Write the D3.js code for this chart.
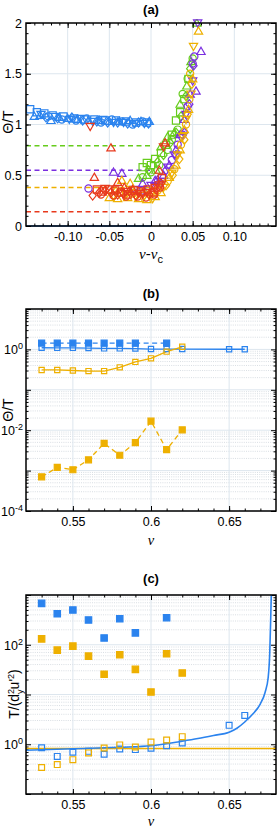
<!DOCTYPE html>
<html><head><meta charset="utf-8">
<script src="https://cdn.jsdelivr.net/npm/d3@7"></script>
<style>
body{margin:0;background:#fff;}
svg{display:block;font-family:"Liberation Sans",Arial,sans-serif;}
</style></head>
<body><svg id="c" width="278" height="830"></svg>
<script>
// ---------- DATA ----------
// Panel (a): Θ/T vs ν-ν_c
const aXTicks = [-0.10,-0.05,0,0.05,0.10];
const aXTickLabels = ["-0.10","-0.05","0","0.05","0.10"];
const aYTicks = [0,0.5,1,1.5,2];
const aYTickLabels = ["0","0.5","1","1.5","2"];
const aLevels = [["green",0.79],["purple",0.55],["orange",0.38],["red",0.14],["blue",0.0]];

const blueSq = [[-0.145,1.15],[-0.137,1.12],[-0.128,1.11],[-0.118,1.09],[-0.105,1.08],[-0.092,1.06],[-0.08,1.05],[-0.068,1.05],[-0.055,1.04],[-0.042,1.04],[-0.03,1.03],[-0.018,1.02],[-0.005,1.02]];
const blueTriUp = [[-0.14,1.08],[-0.133,1.09],[-0.12,1.04],[-0.11,1.07],[-0.1,1.06],[-0.088,1.05],[-0.075,1.04],[-0.062,1.04],[-0.05,1.03],[-0.038,1.03],[-0.025,1.04],[-0.012,1.03],[-0.002,1.03]];
const blueTriDown = [[-0.132,1.1],[-0.115,1.08],[-0.098,1.05],[-0.085,1.06],[-0.07,1.03],[-0.058,1.05],[-0.045,1.02],[-0.033,1.02],[-0.02,1.01],[-0.008,1.01]];
const blueDiamond = [[-0.126,1.07],[-0.112,1.06],[-0.095,1.07],[-0.082,1.04],[-0.065,1.03],[-0.052,1.02],[-0.04,1.02],[-0.028,1.01],[-0.015,1.02],[-0.003,1.01]];
const blueCircle = [[-0.123,1.08],[-0.107,1.05],[-0.09,1.04],[-0.077,1.06],[-0.06,1.02],[-0.047,1.05],[-0.035,1.03],[-0.022,1.0],[-0.01,1.03]];

const greenSq = [[-0.005,0.62],[0.0,0.6],[-0.01,0.58],[0.005,0.66],[0.012,0.72],[0.018,0.8],[0.025,0.9],[0.03,1.04],[0.035,1.12],[0.04,1.25],[0.045,1.45]];
const greenTriUp = [[-0.015,0.47],[-0.005,0.5],[0.006,0.55],[0.012,0.78],[0.02,0.88],[0.028,0.92],[0.035,1.2],[0.043,1.38],[0.048,1.62],[0.055,2.0]];
const greenCircle = [[-0.01,0.48],[0.0,0.53],[0.01,0.6],[0.02,0.75],[0.025,0.85],[0.032,0.95],[0.038,1.3],[0.044,1.45],[0.05,1.65]];
const greenDiamond = [[-0.003,0.55],[0.008,0.63],[0.015,0.7],[0.023,0.82],[0.03,0.92],[0.036,1.08],[0.042,1.28],[0.047,1.55]];

const purpleTriUp = [[-0.045,0.53],[-0.035,0.52],[-0.01,0.42],[0.005,0.45],[0.015,0.5],[0.022,0.6],[0.03,0.75],[0.035,0.9],[0.04,1.05],[0.047,1.3],[0.054,1.33],[0.06,1.72]];
const purpleTriDown = [[-0.02,0.36],[0.0,0.4],[0.012,0.44],[0.02,0.58],[0.028,0.7],[0.036,0.87],[0.042,1.1],[0.05,1.43],[0.056,2.0]];
const purpleCircle = [[-0.075,0.37],[-0.01,0.35],[0.01,0.42],[0.025,0.65],[0.032,0.8],[0.038,0.9],[0.044,1.18],[0.05,1.6],[0.052,1.67]];
const purpleDiamond = [[0.008,0.45],[0.018,0.55],[0.03,0.7],[0.04,0.92],[0.046,1.2],[0.051,1.58]];

const orangeTriUp = [[-0.035,0.45],[-0.025,0.42],[-0.05,0.28],[-0.04,0.27],[-0.028,0.28],[-0.015,0.27],[-0.005,0.26],[0.005,0.29],[0.012,0.33],[0.022,0.48],[0.03,0.6],[0.035,0.75],[0.04,0.95],[0.045,1.15],[0.05,1.45],[0.057,1.92]];
const orangeTriDown = [[-0.045,0.3],[-0.03,0.31],[-0.018,0.29],[-0.008,0.3],[0.002,0.27],[0.015,0.38],[0.025,0.52],[0.032,0.7],[0.038,0.88],[0.042,1.05],[0.048,1.3],[0.051,1.77]];
const orangeCircle = [[-0.038,0.33],[-0.022,0.32],[-0.01,0.33],[0.008,0.35],[0.02,0.44],[0.028,0.56],[0.036,0.8],[0.042,1.0],[0.046,1.25],[0.047,1.5]];
const orangeDiamond = [[-0.042,0.34],[-0.02,0.33],[0.0,0.34],[0.018,0.4],[0.026,0.5],[0.034,0.66],[0.04,0.85],[0.044,1.1],[0.049,1.4]];

const redTriUp = [[-0.068,0.48],[-0.048,0.77],[-0.04,0.43],[-0.032,0.38],[-0.022,0.36],[0.01,0.55],[0.017,0.82]];
const redTriDown = [[-0.073,0.98],[-0.055,0.37],[-0.03,0.34],[-0.015,0.32],[-0.005,0.33],[0.005,0.38],[0.015,0.78]];
const redDiamond = [[-0.07,0.3],[-0.062,0.33],[-0.055,0.35],[-0.048,0.33],[-0.04,0.31],[-0.033,0.32],[-0.026,0.34],[-0.018,0.3],[-0.01,0.32],[-0.002,0.31],[0.006,0.36],[0.012,0.42]];
const redSq = [[-0.065,0.36],[-0.058,0.34],[-0.05,0.36],[-0.043,0.35],[-0.036,0.33],[-0.028,0.31],[-0.02,0.35],[-0.012,0.34],[-0.004,0.36],[0.003,0.33],[0.009,0.4],[0.013,0.47]];
const redCircle = [[-0.06,0.31],[-0.045,0.3],[-0.03,0.29],[-0.016,0.29],[-0.006,0.28],[0.004,0.31],[0.011,0.38]];

// Panel (b): Θ/T vs ν (log)
const nuB = [0.53,0.54,0.55,0.56,0.57,0.58,0.59,0.60,0.61,0.62];
const nuBlueOpenB = [0.53,0.54,0.55,0.56,0.57,0.58,0.59,0.60,0.61,0.62,0.65,0.66];
const blueOpenB = [1.10,1.09,1.09,1.08,1.06,1.06,1.05,1.02,1.02,1.02,1.01,1.01];
const nuBlueFilledB = [0.53,0.54,0.55,0.56,0.57,0.58,0.59,0.61];
const blueFilledB = [1.43,1.43,1.43,1.43,1.43,1.43,1.43,1.43];
const orangeOpenB = [0.31,0.31,0.30,0.29,0.29,0.36,0.49,0.60,0.88,1.16];
const orangeFilledB = [7.0e-4,1.2e-3,1.05e-3,1.85e-3,4.7e-3,2.4e-3,4.9e-3,0.0167,3.3e-3,0.0102];
const bXTicks = [0.55,0.6,0.65];
const bXTickLabels = ["0.55","0.6","0.65"];
const bYLabelExp = [0,-2,-4];

// Panel (c): T/(d_y^2 u'^2) vs ν (log)
const nuBlueFilledC = [0.53,0.54,0.55,0.56,0.57,0.58,0.59,0.61];
const blueFilledC = [680,420,500,315,137,334,173,350];
const orangeFilledC = [131,78,94,59,25.6,63,32,11.2,66,27];
const nuBlueOpenC = [0.53,0.54,0.55,0.56,0.57,0.58,0.59,0.60,0.61,0.62,0.65,0.66];
const blueOpenC = [0.85,0.57,0.69,0.72,0.63,0.80,0.78,0.83,0.93,1.06,2.4,3.8];
const orangeOpenC = [0.34,0.39,0.49,0.67,0.84,0.97,0.88,1.11,1.22,1.42];
const orangeLevelC = 0.82;
const curveNuC = [0.52,0.55,0.58,0.60,0.62,0.63,0.64,0.65,0.655,0.66,0.665,0.67,0.673,0.675,0.676,0.6765,0.677];
const curveValC = [0.76,0.81,0.87,0.93,1.15,1.3,1.5,1.75,2.1,2.8,4.0,6.5,11,22,70,250,1000];
const cYLabelExp = [0,2];

// ---------- STYLE ----------
const COL = {blue:"#2b83ee", green:"#66cc1c", purple:"#7a2fe0", orange:"#eeb000", red:"#e8391c"};
const L = 26, R = 276;
const svg = d3.select("#c");
const gridCol = "#dde6ee";

function shapePath(s, r){
  switch(s){
    case "sq": return `M${-r},${-r}h${2*r}v${2*r}h${-2*r}Z`;
    case "ci": return `M${r},0A${r},${r} 0 1,1 ${-r},0A${r},${r} 0 1,1 ${r},0Z`;
    case "tu": return `M0,${-r*1.15}L${r*1.15},${r*0.85}L${-r*1.15},${r*0.85}Z`;
    case "td": return `M0,${r*1.15}L${r*1.15},${-r*0.85}L${-r*1.15},${-r*0.85}Z`;
    case "di": return `M0,${-r*1.25}L${r},0L0,${r*1.25}L${-r},0Z`;
  }
}
function markers(g, pts, x, y, shape, col, r, filled){
  g.selectAll(null).data(pts).enter().append("path")
    .attr("d", shapePath(shape, r))
    .attr("transform", d => `translate(${x(d[0])},${y(d[1])})`)
    .attr("fill", filled ? col : "none")
    .attr("stroke", col).attr("stroke-width", 1.2);
}
function frame(g, top, bot){
  g.append("rect").attr("x",L).attr("y",top).attr("width",R-L).attr("height",bot-top)
   .attr("fill","none").attr("stroke","#000").attr("stroke-width",1.5);
}
function styleAxis(a){
  a.select(".domain").remove();
  a.selectAll("line").attr("stroke","#000").attr("stroke-width",1);
  a.selectAll("text").attr("font-size","12.5px").attr("fill","#000").attr("font-family","'Liberation Sans',Arial,sans-serif");
}
function linAxes(g, x, y, top, bot, xMaj, xLab, xMin, yMaj, yLab, yMin){
  const ab = g.append("g").attr("transform",`translate(0,${bot})`)
    .call(d3.axisBottom(x).tickValues(xMaj).tickFormat((d,i)=>xLab[i]).tickSize(-5).tickPadding(6));
  styleAxis(ab);
  styleAxis(g.append("g").attr("transform",`translate(0,${bot})`).call(d3.axisBottom(x).tickValues(xMin).tickFormat("").tickSize(-2.5)));
  styleAxis(g.append("g").attr("transform",`translate(0,${top})`).call(d3.axisTop(x).tickValues(xMaj).tickFormat("").tickSize(-5)));
  styleAxis(g.append("g").attr("transform",`translate(0,${top})`).call(d3.axisTop(x).tickValues(xMin).tickFormat("").tickSize(-2.5)));
  if(yMaj){
    const al = g.append("g").attr("transform",`translate(${L},0)`)
      .call(d3.axisLeft(y).tickValues(yMaj).tickFormat((d,i)=>yLab[i]).tickSize(-5).tickPadding(4));
    styleAxis(al);
    styleAxis(g.append("g").attr("transform",`translate(${L},0)`).call(d3.axisLeft(y).tickValues(yMin).tickFormat("").tickSize(-2.5)));
    styleAxis(g.append("g").attr("transform",`translate(${R},0)`).call(d3.axisRight(y).tickValues(yMaj).tickFormat("").tickSize(-5)));
    styleAxis(g.append("g").attr("transform",`translate(${R},0)`).call(d3.axisRight(y).tickValues(yMin).tickFormat("").tickSize(-2.5)));
  }
}
function logYAxes(g, y, labelExps){
  const dom = y.domain();
  const e0 = Math.round(Math.log10(dom[0])), e1 = Math.round(Math.log10(dom[1]));
  const maj = d3.range(e0, e1+1).map(e => Math.pow(10,e));
  const minr = [];
  for(let e=e0;e<e1;e++) for(let k=2;k<10;k++) minr.push(k*Math.pow(10,e));
  const labVals = labelExps.map(e=>Math.pow(10,e));
  const al = g.append("g").attr("transform",`translate(${L},0)`)
    .call(d3.axisLeft(y).tickValues(labVals).tickFormat("").tickSize(-5).tickPadding(4));
  styleAxis(al);
  al.selectAll(".tick").each(function(d,i){
    const t = d3.select(this).append("text").attr("x",-3).attr("dy","0.35em")
      .attr("text-anchor","end").attr("font-size","12.5px").attr("fill","#000");
    t.append("tspan").text("10");
    t.append("tspan").attr("dy","-0.55em").attr("font-size","9px").text(labelExps[i]<0 ? "-"+Math.abs(labelExps[i]) : String(labelExps[i]));
  });
  const others = maj.filter(v => !labVals.some(l=>Math.abs(l-v)/v<1e-9));
  styleAxis(g.append("g").attr("transform",`translate(${L},0)`).call(d3.axisLeft(y).tickValues(others).tickFormat("").tickSize(-5)));
  styleAxis(g.append("g").attr("transform",`translate(${L},0)`).call(d3.axisLeft(y).tickValues(minr).tickFormat("").tickSize(-2.5)));
  styleAxis(g.append("g").attr("transform",`translate(${R},0)`).call(d3.axisRight(y).tickValues(maj).tickFormat("").tickSize(-5)));
  styleAxis(g.append("g").attr("transform",`translate(${R},0)`).call(d3.axisRight(y).tickValues(minr).tickFormat("").tickSize(-2.5)));
  return {maj, minr};
}
function logGrid(g, x, y, xMaj, top, bot, maj, minr){
  g.selectAll(null).data(minr).enter().append("line")
    .attr("x1",L).attr("x2",R).attr("y1",d=>y(d)).attr("y2",d=>y(d))
    .attr("stroke","#cfd6dc").attr("stroke-width",0.8).attr("stroke-dasharray","1,1.2");
  g.selectAll(null).data(maj).enter().append("line")
    .attr("x1",L).attr("x2",R).attr("y1",d=>y(d)).attr("y2",d=>y(d))
    .attr("stroke",gridCol).attr("stroke-width",1);
  g.selectAll(null).data(xMaj).enter().append("line")
    .attr("x1",d=>x(d)).attr("x2",d=>x(d)).attr("y1",top).attr("y2",bot)
    .attr("stroke",gridCol).attr("stroke-width",1);
}
function title(txt, yb){
  svg.append("text").attr("x",(L+R)/2).attr("y",yb).attr("text-anchor","middle")
    .attr("font-weight","bold").attr("font-size","13px").text(txt);
}
function nuLabel(yb){
  svg.append("text").attr("x",(L+R)/2).attr("y",yb).attr("text-anchor","middle")
    .attr("font-family","'Liberation Serif','Times New Roman',serif").attr("font-style","italic")
    .attr("font-size","14.5px").text("ν");
}
function thetaLabel(cy){
  svg.append("text").attr("transform",`translate(13,${cy}) rotate(-90)`).attr("text-anchor","middle")
    .attr("font-size","14px").text("Θ/T");
}

// ---------- PANEL (a) ----------
{
  const top = 23, bot = 226;
  const x = d3.scaleLinear().domain([-0.15,0.15]).range([L,R]);
  const y = d3.scaleLinear().domain([0,2]).range([bot,top]);
  const g = svg.append("g");
  g.selectAll(null).data(aXTicks).enter().append("line")
    .attr("x1",d=>x(d)).attr("x2",d=>x(d)).attr("y1",top).attr("y2",bot).attr("stroke",gridCol);
  g.selectAll(null).data(aYTicks.slice(1,-1)).enter().append("line")
    .attr("x1",L).attr("x2",R).attr("y1",d=>y(d)).attr("y2",d=>y(d)).attr("stroke",gridCol);
  g.selectAll(null).data(aLevels).enter().append("line")
    .attr("x1",x(-0.15)).attr("x2",x(0)).attr("y1",d=>y(d[1])).attr("y2",d=>y(d[1]))
    .attr("stroke",d=>COL[d[0]]).attr("stroke-width",1.5)
    .attr("stroke-dasharray",d=>d[1]===0?null:"5,3.5");
  const r = 3.6;
  const mg = g.append("g");
  markers(mg, blueSq, x,y,"sq",COL.blue,r);
  markers(mg, blueTriUp, x,y,"tu",COL.blue,r);
  markers(mg, blueTriDown, x,y,"td",COL.blue,r);
  markers(mg, blueDiamond, x,y,"di",COL.blue,r);
  markers(mg, blueCircle, x,y,"ci",COL.blue,r);
  markers(mg, greenSq, x,y,"sq",COL.green,r);
  markers(mg, greenTriUp, x,y,"tu",COL.green,r);
  markers(mg, greenCircle, x,y,"ci",COL.green,r);
  markers(mg, greenDiamond, x,y,"di",COL.green,r);
  markers(mg, purpleTriUp, x,y,"tu",COL.purple,r);
  markers(mg, purpleTriDown, x,y,"td",COL.purple,r);
  markers(mg, purpleCircle, x,y,"ci",COL.purple,r);
  markers(mg, purpleDiamond, x,y,"di",COL.purple,r);
  markers(mg, orangeTriUp, x,y,"tu",COL.orange,r);
  markers(mg, orangeTriDown, x,y,"td",COL.orange,r);
  markers(mg, orangeCircle, x,y,"ci",COL.orange,r);
  markers(mg, orangeDiamond, x,y,"di",COL.orange,r);
  markers(mg, redSq, x,y,"sq",COL.red,r);
  markers(mg, redDiamond, x,y,"di",COL.red,r);
  markers(mg, redCircle, x,y,"ci",COL.red,r);
  markers(mg, redTriUp, x,y,"tu",COL.red,r);
  markers(mg, redTriDown, x,y,"td",COL.red,r);
  mg.attr("clip-path","url(#clipA)");
  svg.append("clipPath").attr("id","clipA").append("rect").attr("x",L).attr("y",top-4).attr("width",R-L).attr("height",bot-top+4);
  const xMin = d3.range(-14,15).map(v=>v/100);
  const yMin = d3.range(0,21).map(v=>v/10);
  linAxes(g, x, y, top, bot, aXTicks, aXTickLabels, xMin, aYTicks, aYTickLabels, yMin);
  frame(g, top, bot);
  title("(a)", 14);
  thetaLabel(122);
  const t = svg.append("text").attr("x",(L+R)/2).attr("y",259).attr("text-anchor","middle")
    .attr("font-size","15px");
  t.append("tspan").attr("font-family","'Liberation Serif',serif").attr("font-style","italic").text("ν");
  t.append("tspan").text("-");
  t.append("tspan").attr("font-family","'Liberation Serif',serif").attr("font-style","italic").text("ν");
  t.append("tspan").attr("dy","4").attr("font-size","11px").text("c");
}

// ---------- PANEL (b) ----------
{
  const top = 309, bot = 511;
  const x = d3.scaleLinear().domain([0.52,0.68]).range([L,R]);
  const y = d3.scaleLog().domain([1e-4,1e1]).range([bot,top]);
  const g = svg.append("g");
  const gridG = g.append("g");
  const xMin = d3.range(53,68).map(v=>v/100);
  linAxes(g, x, y, top, bot, bXTicks, bXTickLabels, xMin, null);
  const {maj, minr} = logYAxes(g, y, bYLabelExp);
  logGrid(gridG, x, y, bXTicks, top, bot, maj, minr);
  const line = d3.line().x(d=>x(d[0])).y(d=>y(d[1]));
  const bo = nuBlueOpenB.map((n,i)=>[n,blueOpenB[i]]);
  const bf = nuBlueFilledB.map((n,i)=>[n,blueFilledB[i]]);
  const oo = nuB.map((n,i)=>[n,orangeOpenB[i]]);
  const of = nuB.map((n,i)=>[n,orangeFilledB[i]]);
  g.append("path").attr("d",line(bf)).attr("fill","none").attr("stroke",COL.blue).attr("stroke-width",1.3).attr("stroke-dasharray","5,3.5");
  g.append("path").attr("d",line(bo)).attr("fill","none").attr("stroke",COL.blue).attr("stroke-width",1.3);
  g.append("path").attr("d",line(oo)).attr("fill","none").attr("stroke",COL.orange).attr("stroke-width",1.3);
  g.append("path").attr("d",line(of)).attr("fill","none").attr("stroke",COL.orange).attr("stroke-width",1.3).attr("stroke-dasharray","5,3.5");
  markers(g, bf, x,y,"sq",COL.blue,3,true);
  markers(g, bo, x,y,"sq",COL.blue,2.6,false);
  markers(g, oo, x,y,"sq",COL.orange,2.6,false);
  markers(g, of, x,y,"sq",COL.orange,3,true);
  frame(g, top, bot);
  title("(b)", 298);
  thetaLabel(410);
  nuLabel(545);
}

// ---------- PANEL (c) ----------
{
  const top = 595, bot = 794;
  const x = d3.scaleLinear().domain([0.52,0.68]).range([L,R]);
  const y = d3.scaleLog().domain([1e-1,1e3]).range([bot,top]);
  const g = svg.append("g");
  const gridG = g.append("g");
  const xMin = d3.range(53,68).map(v=>v/100);
  linAxes(g, x, y, top, bot, bXTicks, bXTickLabels, xMin, null);
  const {maj, minr} = logYAxes(g, y, cYLabelExp);
  logGrid(gridG, x, y, bXTicks, top, bot, maj, minr);
  const cg = g.append("g").attr("clip-path","url(#clipC)");
  svg.append("clipPath").attr("id","clipC").append("rect").attr("x",L).attr("y",top).attr("width",R-L).attr("height",bot-top);
  cg.append("line").attr("x1",L).attr("x2",R).attr("y1",y(orangeLevelC)).attr("y2",y(orangeLevelC))
    .attr("stroke",COL.orange).attr("stroke-width",1.6);
  const cl = d3.line().x(d=>x(d[0])).y(d=>y(d[1])).curve(d3.curveMonotoneX);
  cg.append("path").attr("d",cl(curveNuC.map((n,i)=>[n,curveValC[i]])))
    .attr("fill","none").attr("stroke",COL.blue).attr("stroke-width",1.6);
  markers(g, nuBlueFilledC.map((n,i)=>[n,blueFilledC[i]]), x,y,"sq",COL.blue,3.2,true);
  markers(g, nuB.map((n,i)=>[n,orangeFilledC[i]]), x,y,"sq",COL.orange,3.2,true);
  markers(g, nuBlueOpenC.map((n,i)=>[n,blueOpenC[i]]), x,y,"sq",COL.blue,2.9,false);
  markers(g, nuB.map((n,i)=>[n,orangeOpenC[i]]), x,y,"sq",COL.orange,2.9,false);
  frame(g, top, bot);
  title("(c)", 583);
  nuLabel(826);
  const t = svg.append("text").attr("transform",`translate(19,694) rotate(-90)`).attr("text-anchor","middle").attr("font-size","14px");
  t.append("tspan").text("T/(d");
  t.append("tspan").attr("dy","-5").attr("font-size","9px").text("2");
  t.append("tspan").attr("dx","-5").attr("dy","9").attr("font-size","9px").text("y");
  t.append("tspan").attr("dy","-4").text("u'");
  t.append("tspan").attr("dy","-5").attr("font-size","9px").text("2");
  t.append("tspan").attr("dy","5").text(")");
}
</script></body></html>
